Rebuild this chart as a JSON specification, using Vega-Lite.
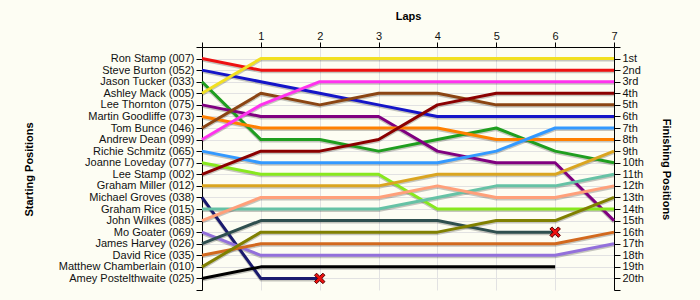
{
  "$schema": "https://vega.github.io/schema/vega-lite/v6.json",
  "width": 412,
  "height": 243,
  "autosize": {"type": "none"},
  "padding": {"left": 202, "top": 47, "right": 86, "bottom": 10},
  "background": "#fdfdf3",
  "config": {
    "view": {"stroke": null},
    "font": "Liberation Sans",
    "axis": {
      "domainColor": "#000000",
      "tickColor": "#000000",
      "labelColor": "#111111",
      "labelFont": "Liberation Sans",
      "labelFontSize": 11,
      "titleFont": "Liberation Sans",
      "titleFontSize": 11,
      "titleFontWeight": "bold",
      "titleColor": "#000000",
      "gridColor": "#e2e2e2",
      "tickSize": 6,
      "labelPadding": 2,
      "labelOverlap": false,
      "labelBound": false,
      "labelFlush": false
    }
  },
  "datasets": {
    "laps": [
      {"d": "Ron Stamp (007)", "lap": 0, "pos": 1}, {"d": "Ron Stamp (007)", "lap": 1, "pos": 2}, {"d": "Ron Stamp (007)", "lap": 2, "pos": 2}, {"d": "Ron Stamp (007)", "lap": 3, "pos": 2}, {"d": "Ron Stamp (007)", "lap": 4, "pos": 2}, {"d": "Ron Stamp (007)", "lap": 5, "pos": 2}, {"d": "Ron Stamp (007)", "lap": 6, "pos": 2}, {"d": "Ron Stamp (007)", "lap": 7, "pos": 2},
      {"d": "Steve Burton (052)", "lap": 0, "pos": 2}, {"d": "Steve Burton (052)", "lap": 1, "pos": 3}, {"d": "Steve Burton (052)", "lap": 2, "pos": 4}, {"d": "Steve Burton (052)", "lap": 3, "pos": 5}, {"d": "Steve Burton (052)", "lap": 4, "pos": 6}, {"d": "Steve Burton (052)", "lap": 5, "pos": 6}, {"d": "Steve Burton (052)", "lap": 6, "pos": 6}, {"d": "Steve Burton (052)", "lap": 7, "pos": 6},
      {"d": "Jason Tucker (033)", "lap": 0, "pos": 3}, {"d": "Jason Tucker (033)", "lap": 1, "pos": 8}, {"d": "Jason Tucker (033)", "lap": 2, "pos": 8}, {"d": "Jason Tucker (033)", "lap": 3, "pos": 9}, {"d": "Jason Tucker (033)", "lap": 4, "pos": 8}, {"d": "Jason Tucker (033)", "lap": 5, "pos": 7}, {"d": "Jason Tucker (033)", "lap": 6, "pos": 9}, {"d": "Jason Tucker (033)", "lap": 7, "pos": 10},
      {"d": "Ashley Mack (005)", "lap": 0, "pos": 4}, {"d": "Ashley Mack (005)", "lap": 1, "pos": 1}, {"d": "Ashley Mack (005)", "lap": 2, "pos": 1}, {"d": "Ashley Mack (005)", "lap": 3, "pos": 1}, {"d": "Ashley Mack (005)", "lap": 4, "pos": 1}, {"d": "Ashley Mack (005)", "lap": 5, "pos": 1}, {"d": "Ashley Mack (005)", "lap": 6, "pos": 1}, {"d": "Ashley Mack (005)", "lap": 7, "pos": 1},
      {"d": "Lee Thornton (075)", "lap": 0, "pos": 5}, {"d": "Lee Thornton (075)", "lap": 1, "pos": 6}, {"d": "Lee Thornton (075)", "lap": 2, "pos": 6}, {"d": "Lee Thornton (075)", "lap": 3, "pos": 6}, {"d": "Lee Thornton (075)", "lap": 4, "pos": 9}, {"d": "Lee Thornton (075)", "lap": 5, "pos": 10}, {"d": "Lee Thornton (075)", "lap": 6, "pos": 10}, {"d": "Lee Thornton (075)", "lap": 7, "pos": 15},
      {"d": "Martin Goodliffe (073)", "lap": 0, "pos": 6}, {"d": "Martin Goodliffe (073)", "lap": 1, "pos": 7}, {"d": "Martin Goodliffe (073)", "lap": 2, "pos": 7}, {"d": "Martin Goodliffe (073)", "lap": 3, "pos": 7}, {"d": "Martin Goodliffe (073)", "lap": 4, "pos": 7}, {"d": "Martin Goodliffe (073)", "lap": 5, "pos": 8}, {"d": "Martin Goodliffe (073)", "lap": 6, "pos": 8}, {"d": "Martin Goodliffe (073)", "lap": 7, "pos": 8},
      {"d": "Tom Bunce (046)", "lap": 0, "pos": 7}, {"d": "Tom Bunce (046)", "lap": 1, "pos": 4}, {"d": "Tom Bunce (046)", "lap": 2, "pos": 5}, {"d": "Tom Bunce (046)", "lap": 3, "pos": 4}, {"d": "Tom Bunce (046)", "lap": 4, "pos": 4}, {"d": "Tom Bunce (046)", "lap": 5, "pos": 5}, {"d": "Tom Bunce (046)", "lap": 6, "pos": 5}, {"d": "Tom Bunce (046)", "lap": 7, "pos": 5},
      {"d": "Andrew Dean (099)", "lap": 0, "pos": 8}, {"d": "Andrew Dean (099)", "lap": 1, "pos": 5}, {"d": "Andrew Dean (099)", "lap": 2, "pos": 3}, {"d": "Andrew Dean (099)", "lap": 3, "pos": 3}, {"d": "Andrew Dean (099)", "lap": 4, "pos": 3}, {"d": "Andrew Dean (099)", "lap": 5, "pos": 3}, {"d": "Andrew Dean (099)", "lap": 6, "pos": 3}, {"d": "Andrew Dean (099)", "lap": 7, "pos": 3},
      {"d": "Richie Schmitz (065)", "lap": 0, "pos": 9}, {"d": "Richie Schmitz (065)", "lap": 1, "pos": 10}, {"d": "Richie Schmitz (065)", "lap": 2, "pos": 10}, {"d": "Richie Schmitz (065)", "lap": 3, "pos": 10}, {"d": "Richie Schmitz (065)", "lap": 4, "pos": 10}, {"d": "Richie Schmitz (065)", "lap": 5, "pos": 9}, {"d": "Richie Schmitz (065)", "lap": 6, "pos": 7}, {"d": "Richie Schmitz (065)", "lap": 7, "pos": 7},
      {"d": "Joanne Loveday (077)", "lap": 0, "pos": 10}, {"d": "Joanne Loveday (077)", "lap": 1, "pos": 11}, {"d": "Joanne Loveday (077)", "lap": 2, "pos": 11}, {"d": "Joanne Loveday (077)", "lap": 3, "pos": 11}, {"d": "Joanne Loveday (077)", "lap": 4, "pos": 14}, {"d": "Joanne Loveday (077)", "lap": 5, "pos": 14}, {"d": "Joanne Loveday (077)", "lap": 6, "pos": 14}, {"d": "Joanne Loveday (077)", "lap": 7, "pos": 14},
      {"d": "Lee Stamp (002)", "lap": 0, "pos": 11}, {"d": "Lee Stamp (002)", "lap": 1, "pos": 9}, {"d": "Lee Stamp (002)", "lap": 2, "pos": 9}, {"d": "Lee Stamp (002)", "lap": 3, "pos": 8}, {"d": "Lee Stamp (002)", "lap": 4, "pos": 5}, {"d": "Lee Stamp (002)", "lap": 5, "pos": 4}, {"d": "Lee Stamp (002)", "lap": 6, "pos": 4}, {"d": "Lee Stamp (002)", "lap": 7, "pos": 4},
      {"d": "Graham Miller (012)", "lap": 0, "pos": 12}, {"d": "Graham Miller (012)", "lap": 1, "pos": 12}, {"d": "Graham Miller (012)", "lap": 2, "pos": 12}, {"d": "Graham Miller (012)", "lap": 3, "pos": 12}, {"d": "Graham Miller (012)", "lap": 4, "pos": 11}, {"d": "Graham Miller (012)", "lap": 5, "pos": 11}, {"d": "Graham Miller (012)", "lap": 6, "pos": 11}, {"d": "Graham Miller (012)", "lap": 7, "pos": 9},
      {"d": "Michael Groves (038)", "lap": 0, "pos": 13}, {"d": "Michael Groves (038)", "lap": 1, "pos": 20}, {"d": "Michael Groves (038)", "lap": 2, "pos": 20},
      {"d": "Graham Rice (015)", "lap": 0, "pos": 14}, {"d": "Graham Rice (015)", "lap": 1, "pos": 14}, {"d": "Graham Rice (015)", "lap": 2, "pos": 14}, {"d": "Graham Rice (015)", "lap": 3, "pos": 14}, {"d": "Graham Rice (015)", "lap": 4, "pos": 13}, {"d": "Graham Rice (015)", "lap": 5, "pos": 12}, {"d": "Graham Rice (015)", "lap": 6, "pos": 12}, {"d": "Graham Rice (015)", "lap": 7, "pos": 11},
      {"d": "John Wilkes (085)", "lap": 0, "pos": 15}, {"d": "John Wilkes (085)", "lap": 1, "pos": 13}, {"d": "John Wilkes (085)", "lap": 2, "pos": 13}, {"d": "John Wilkes (085)", "lap": 3, "pos": 13}, {"d": "John Wilkes (085)", "lap": 4, "pos": 12}, {"d": "John Wilkes (085)", "lap": 5, "pos": 13}, {"d": "John Wilkes (085)", "lap": 6, "pos": 13}, {"d": "John Wilkes (085)", "lap": 7, "pos": 12},
      {"d": "Mo Goater (069)", "lap": 0, "pos": 16}, {"d": "Mo Goater (069)", "lap": 1, "pos": 18}, {"d": "Mo Goater (069)", "lap": 2, "pos": 18}, {"d": "Mo Goater (069)", "lap": 3, "pos": 18}, {"d": "Mo Goater (069)", "lap": 4, "pos": 18}, {"d": "Mo Goater (069)", "lap": 5, "pos": 18}, {"d": "Mo Goater (069)", "lap": 6, "pos": 18}, {"d": "Mo Goater (069)", "lap": 7, "pos": 17},
      {"d": "James Harvey (026)", "lap": 0, "pos": 17}, {"d": "James Harvey (026)", "lap": 1, "pos": 15}, {"d": "James Harvey (026)", "lap": 2, "pos": 15}, {"d": "James Harvey (026)", "lap": 3, "pos": 15}, {"d": "James Harvey (026)", "lap": 4, "pos": 15}, {"d": "James Harvey (026)", "lap": 5, "pos": 16}, {"d": "James Harvey (026)", "lap": 6, "pos": 16},
      {"d": "David Rice (035)", "lap": 0, "pos": 18}, {"d": "David Rice (035)", "lap": 1, "pos": 17}, {"d": "David Rice (035)", "lap": 2, "pos": 17}, {"d": "David Rice (035)", "lap": 3, "pos": 17}, {"d": "David Rice (035)", "lap": 4, "pos": 17}, {"d": "David Rice (035)", "lap": 5, "pos": 17}, {"d": "David Rice (035)", "lap": 6, "pos": 17}, {"d": "David Rice (035)", "lap": 7, "pos": 16},
      {"d": "Matthew Chamberlain (010)", "lap": 0, "pos": 19}, {"d": "Matthew Chamberlain (010)", "lap": 1, "pos": 16}, {"d": "Matthew Chamberlain (010)", "lap": 2, "pos": 16}, {"d": "Matthew Chamberlain (010)", "lap": 3, "pos": 16}, {"d": "Matthew Chamberlain (010)", "lap": 4, "pos": 16}, {"d": "Matthew Chamberlain (010)", "lap": 5, "pos": 15}, {"d": "Matthew Chamberlain (010)", "lap": 6, "pos": 15}, {"d": "Matthew Chamberlain (010)", "lap": 7, "pos": 13},
      {"d": "Amey Postelthwaite (025)", "lap": 0, "pos": 20}, {"d": "Amey Postelthwaite (025)", "lap": 1, "pos": 19}, {"d": "Amey Postelthwaite (025)", "lap": 2, "pos": 19}, {"d": "Amey Postelthwaite (025)", "lap": 3, "pos": 19}, {"d": "Amey Postelthwaite (025)", "lap": 4, "pos": 19}, {"d": "Amey Postelthwaite (025)", "lap": 5, "pos": 19}, {"d": "Amey Postelthwaite (025)", "lap": 6, "pos": 19}
    ],
    "retired": [
      {"d": "Michael Groves (038)", "lap": 2, "pos": 20},
      {"d": "James Harvey (026)", "lap": 6, "pos": 16}
    ]
  },
  "encoding": {
    "x": {
      "field": "lap",
      "type": "quantitative",
      "scale": {"domain": [0, 7], "nice": false, "zero": false},
      "axis": {
        "orient": "top",
        "values": [0, 1, 2, 3, 4, 5, 6, 7],
        "labelExpr": "datum.value == 0 ? '' : datum.label",
        "title": "Laps",
        "titleX": 206,
        "titleY": -31,
        "titleBaseline": "middle",
        "titleAlign": "center",
        "tickSize": 5,
        "labelPadding": 1,
        "grid": true
      }
    },
    "y": {
      "field": "pos",
      "type": "quantitative",
      "scale": {"domain": [0, 21], "reverse": true, "nice": false, "zero": false}
    }
  },
  "layer": [
    {
      "data": {"name": "laps"},
      "mark": {"type": "line", "color": "#000000", "opacity": 0.22, "strokeWidth": 3, "yOffset": 1.5, "strokeJoin": "round"},
      "encoding": {
        "y": {
          "field": "pos",
          "type": "quantitative",
          "axis": {
            "orient": "right",
            "values": [0, 1, 2, 3, 4, 5, 6, 7, 8, 9, 10, 11, 12, 13, 14, 15, 16, 17, 18, 19, 20, 21],
            "labelExpr": "datum.value < 1 || datum.value > 20 ? '' : datum.value + (datum.value == 1 ? 'st' : datum.value == 2 ? 'nd' : datum.value == 3 ? 'rd' : 'th')",
            "title": "Finishing Positions",
            "titleAngle": 90,
            "titleX": 51,
            "titleY": 122,
            "titleBaseline": "middle",
            "titleAlign": "center",
            "grid": true,
            "gridOpacity": {"condition": {"test": "datum.value == 21", "value": 0}, "value": 1}
          }
        },
        "detail": {"field": "d"},
        "order": {"field": "lap"}
      }
    },
    {
      "data": {"name": "laps"},
      "mark": {"type": "line", "strokeWidth": 3, "strokeJoin": "round"},
      "encoding": {
        "y": {
          "field": "pos",
          "type": "quantitative",
          "axis": {
            "orient": "left",
            "values": [0, 1, 2, 3, 4, 5, 6, 7, 8, 9, 10, 11, 12, 13, 14, 15, 16, 17, 18, 19, 20, 21],
            "labelExpr": "['', 'Ron Stamp (007)', 'Steve Burton (052)', 'Jason Tucker (033)', 'Ashley Mack (005)', 'Lee Thornton (075)', 'Martin Goodliffe (073)', 'Tom Bunce (046)', 'Andrew Dean (099)', 'Richie Schmitz (065)', 'Joanne Loveday (077)', 'Lee Stamp (002)', 'Graham Miller (012)', 'Michael Groves (038)', 'Graham Rice (015)', 'John Wilkes (085)', 'Mo Goater (069)', 'James Harvey (026)', 'David Rice (035)', 'Matthew Chamberlain (010)', 'Amey Postelthwaite (025)', ''][datum.value]",
            "title": "Starting Positions",
            "titleAngle": -90,
            "titleX": -173,
            "titleY": 122,
            "titleBaseline": "middle",
            "titleAlign": "center",
            "grid": false
          }
        },
        "color": {
          "field": "d",
          "type": "nominal",
          "legend": null,
          "scale": {
            "domain": ["Ron Stamp (007)", "Steve Burton (052)", "Jason Tucker (033)", "Ashley Mack (005)", "Lee Thornton (075)", "Martin Goodliffe (073)", "Tom Bunce (046)", "Andrew Dean (099)", "Richie Schmitz (065)", "Joanne Loveday (077)", "Lee Stamp (002)", "Graham Miller (012)", "Michael Groves (038)", "Graham Rice (015)", "John Wilkes (085)", "Mo Goater (069)", "James Harvey (026)", "David Rice (035)", "Matthew Chamberlain (010)", "Amey Postelthwaite (025)"],
            "range": ["#ee1111", "#1515c8", "#1f9e1f", "#f2e020", "#800080", "#ff8000", "#8b4513", "#ff33ee", "#3399ff", "#88e81e", "#8b0000", "#daa520", "#1a1a6e", "#66c2a5", "#ffa07a", "#9370db", "#2f4f4f", "#d2691e", "#808000", "#000000"]
          }
        },
        "order": {"field": "lap"}
      }
    },
    {
      "data": {"name": "retired"},
      "mark": {
        "type": "point",
        "shape": "M-1,-0.6L-0.6,-1L0,-0.4L0.6,-1L1,-0.6L0.4,0L1,0.6L0.6,1L0,0.4L-0.6,1L-1,0.6L-0.4,0Z",
        "filled": true,
        "fill": "#ee1111",
        "stroke": "#550000",
        "strokeWidth": 1,
        "size": 110,
        "opacity": 1
      },
      "encoding": {
        "y": {"field": "pos", "type": "quantitative", "axis": null}
      }
    }
  ],
  "resolve": {"axis": {"y": "independent"}}
}
